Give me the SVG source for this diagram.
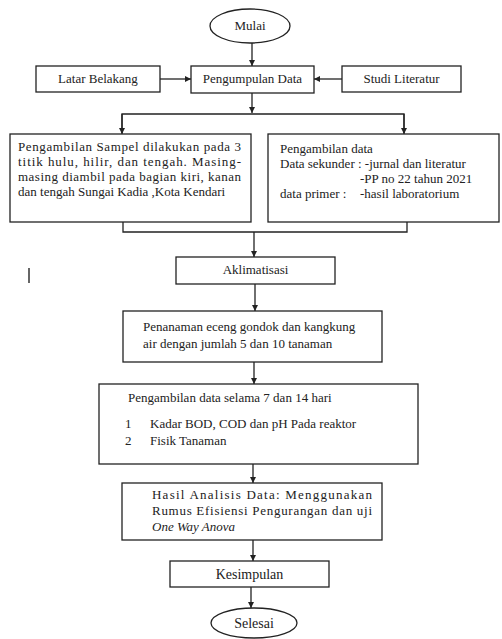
<svg xmlns="http://www.w3.org/2000/svg" width="502" height="639" viewBox="0 0 502 639">
<style>
.box{fill:#fff;stroke:#222;stroke-width:1.3}
.ln{fill:none;stroke:#222;stroke-width:1.3}
.c{text-anchor:middle}
</style>
<defs>
<marker id="ah" viewBox="0 0 10 10" refX="10" refY="5" markerWidth="6" markerHeight="6" markerUnits="userSpaceOnUse" orient="auto">
<path d="M0,0 L10,5 L0,10 z" fill="#222"/>
</marker>
</defs>
<rect width="502" height="639" fill="#fff"/>
<g id="connectors">
<line class="ln" x1="252" y1="43" x2="252" y2="66" marker-end="url(#ah)"/>
<line class="ln" x1="160" y1="79" x2="191" y2="79" marker-end="url(#ah)"/>
<line class="ln" x1="342" y1="79" x2="314" y2="79" marker-end="url(#ah)"/>
<line class="ln" x1="252" y1="93" x2="252" y2="113" marker-end="url(#ah)"/>
<polyline class="ln" points="122,133 122,114 404,114 404,133"/>
<line class="ln" x1="122" y1="114" x2="122" y2="134" marker-end="url(#ah)"/>
<line class="ln" x1="404" y1="114" x2="404" y2="134" marker-end="url(#ah)"/>
<polyline class="ln" points="123,222 123,232 407,232 407,222"/>
<line class="ln" x1="254" y1="232" x2="254" y2="257" marker-end="url(#ah)"/>
<line class="ln" x1="255" y1="284" x2="255" y2="311" marker-end="url(#ah)"/>
<line class="ln" x1="254" y1="362" x2="254" y2="384" marker-end="url(#ah)"/>
<line class="ln" x1="253" y1="464" x2="253" y2="483" marker-end="url(#ah)"/>
<line class="ln" x1="253" y1="540" x2="253" y2="561" marker-end="url(#ah)"/>
<line class="ln" x1="251" y1="587" x2="251" y2="608" marker-end="url(#ah)"/>
</g>
<g font-family="'Liberation Serif', 'Times New Roman', 'DejaVu Serif', serif" font-size="13" fill="#222">
<g id="mulai">
<ellipse class="box" cx="250" cy="26" rx="40" ry="17"/>
<text class="c" x="250" y="30">Mulai</text>
</g>
<g id="latar">
<rect class="box" x="36" y="66" width="124" height="26"/>
<text class="c" x="98" y="83">Latar Belakang</text>
</g>
<g id="pengumpulan">
<rect class="box" x="191" y="66" width="123" height="27"/>
<text class="c" x="252.5" y="83">Pengumpulan Data</text>
</g>
<g id="studi">
<rect class="box" x="342" y="66" width="119" height="26"/>
<text class="c" x="401.5" y="83">Studi Literatur</text>
</g>
<g id="sampel">
<rect class="box" x="10" y="134" width="241" height="88"/>
<text x="18" y="151" textLength="223" lengthAdjust="spacing">Pengambilan Sampel  dilakukan pada 3</text>
<text x="18" y="166" textLength="223" lengthAdjust="spacing">titik hulu, hilir, dan tengah. Masing-</text>
<text x="18" y="181" textLength="223" lengthAdjust="spacing">masing diambil pada bagian kiri, kanan</text>
<text x="18" y="196">dan tengah Sungai Kadia ,Kota Kendari</text>
</g>
<g id="data">
<rect class="box" x="268" y="134" width="231" height="88"/>
<text x="280" y="153">Pengambilan data</text>
<text x="280" y="168">Data sekunder : -jurnal dan literatur</text>
<text x="360" y="183">-PP no 22 tahun 2021</text>
<text x="280" y="198">data primer :</text>
<text x="360" y="198">-hasil laboratorium</text>
</g>
<g id="aklimatisasi">
<rect class="box" x="176" y="257" width="159" height="27"/>
<text class="c" x="255.5" y="274">Aklimatisasi</text>
</g>
<g id="penanaman">
<rect class="box" x="123" y="311" width="259" height="51"/>
<text x="143" y="331">Penanaman eceng gondok dan kangkung</text>
<text x="143" y="348">air dengan jumlah 5 dan 10 tanaman</text>
</g>
<g id="pengambilan">
<rect class="box" x="99" y="384" width="319" height="80"/>
<text x="128" y="402">Pengambilan data selama 7 dan 14  hari</text>
<text x="125" y="428">1</text>
<text x="150" y="428">Kadar BOD, COD dan pH Pada reaktor</text>
<text x="125" y="445">2</text>
<text x="150" y="445">Fisik Tanaman</text>
</g>
<g id="hasil">
<rect class="box" x="122" y="483" width="260" height="57"/>
<text x="152" y="499" textLength="220" lengthAdjust="spacing">Hasil  Analisis  Data:  Menggunakan</text>
<text x="152" y="515" textLength="220" lengthAdjust="spacing">Rumus Efisiensi Pengurangan dan uji</text>
<text x="152" y="531" font-style="italic">One Way Anova</text>
</g>
<g id="kesimpulan">
<rect class="box" x="170" y="561" width="159" height="26"/>
<text class="c" x="249.5" y="579" font-size="14">Kesimpulan</text>
</g>
<g id="selesai">
<ellipse class="box" cx="254" cy="623" rx="43" ry="15"/>
<text class="c" x="254" y="628" font-size="14">Selesai</text>
</g>
</g>
<line x1="29" y1="268" x2="29" y2="283" stroke="#333" stroke-width="1.5"/>
</svg>
